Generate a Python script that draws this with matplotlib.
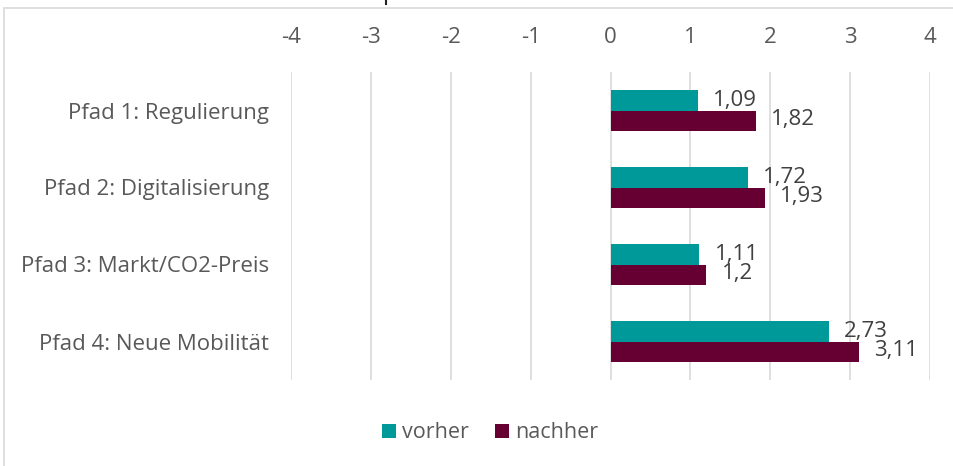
import numpy as np
import matplotlib.pyplot as plt
from matplotlib.patches import Rectangle
from matplotlib.lines import Line2D

categories = ["Pfad 1: Regulierung", "Pfad 2: Digitalisierung",
              "Pfad 3: Markt/CO2-Preis", "Pfad 4: Neue Mobilität"]
vorher = [1.09, 1.72, 1.11, 2.73]
nachher = [1.82, 1.93, 1.2, 3.11]
xticks = [-4, -3, -2, -1, 0, 1, 2, 3, 4]

teal = "#009999"
maroon = "#660033"
grey_text = "#595959"

plt.rcParams['font.family'] = ['Open Sans', 'DejaVu Sans']

W, H = 954, 466
fig = plt.figure(figsize=(W / 100, H / 100), dpi=100)

# outer chart frame (cut off at right and bottom)
fig.patches.append(Rectangle((4 / W, -0.1), 1.2, 1.1 - 8 / H, transform=fig.transFigure,
                             fill=False, edgecolor="#d9d9d9", linewidth=1.2))
# tiny remnant of the cut-off title above the frame
fig.lines.append(Line2D([386 / W, 386 / W], [1.0, 1 - 4 / H], transform=fig.transFigure,
                        color="#222222", linewidth=1.5))

ax = fig.add_axes([291 / W, 1 - 380 / H, (930 - 291) / W, (380 - 72) / H])

y = np.arange(len(categories))
h = 0.26
ax.barh(y - h / 2, vorher, height=h, color=teal, label="vorher")
ax.barh(y + h / 2, nachher, height=h, color=maroon, label="nachher")

for i in range(len(categories)):
    ax.annotate(f"{vorher[i]:g}".replace(".", ","), (vorher[i], y[i] - h / 2),
                xytext=(11, 0), textcoords="offset points", va="center", ha="left",
                fontsize=16, color="#404040")
    ax.annotate(f"{nachher[i]:g}".replace(".", ","), (nachher[i], y[i] + h / 2),
                xytext=(11, 1), textcoords="offset points", va="center", ha="left",
                fontsize=16, color="#404040")

ax.set_xlim(-4, 4)
ax.set_ylim(3.5, -0.5)
ax.set_xticks(xticks)
ax.set_xticklabels([str(t) for t in xticks])
ax.set_yticks(y)
ax.set_yticklabels(categories)
ax.xaxis.tick_top()
ax.tick_params(axis="both", length=0, labelsize=16, colors=grey_text)
ax.tick_params(axis="x", pad=17)
ax.tick_params(axis="y", pad=16)
for s in ax.spines.values():
    s.set_visible(False)
ax.grid(axis="x", color="#d9d9d9", linewidth=1.2)
ax.set_axisbelow(True)

fig.legend(loc="center", bbox_to_anchor=(490 / W, 1 - 433 / H), ncol=2, frameon=False,
           fontsize=15.5, handlelength=0.65, handleheight=0.65, handletextpad=0.3,
           columnspacing=1.2, labelcolor=grey_text)

fig.savefig("out.png", dpi=100)
